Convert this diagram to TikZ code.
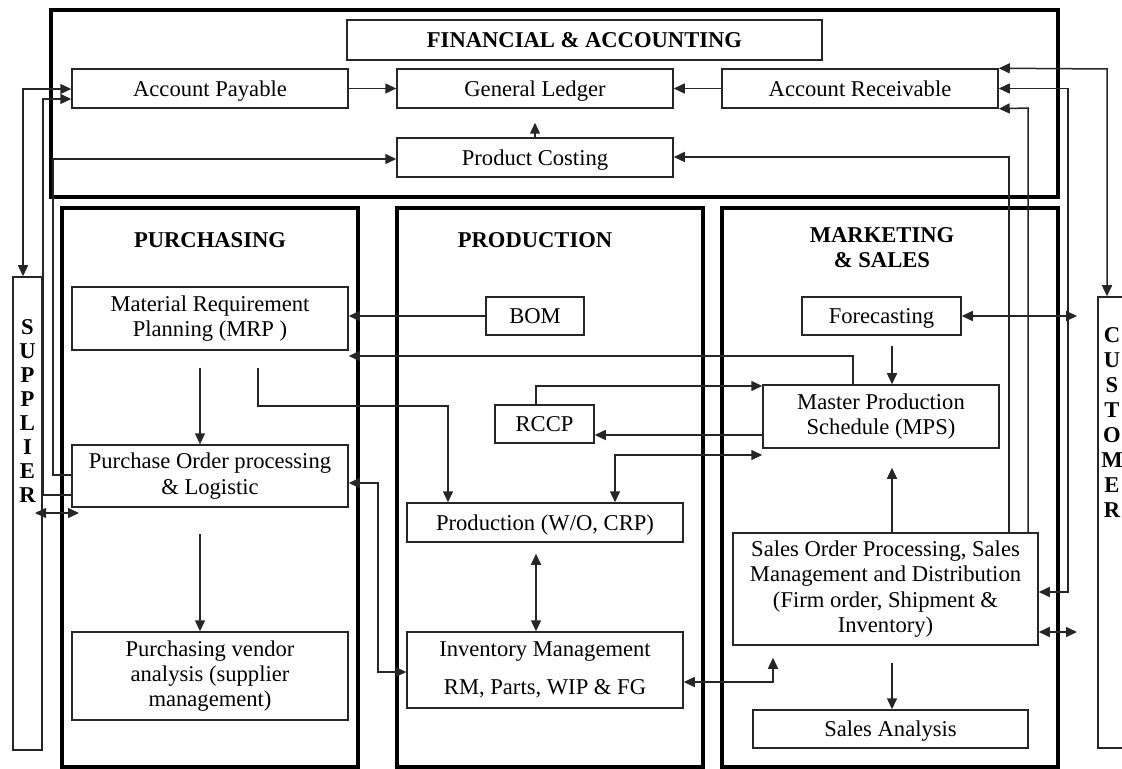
\documentclass[tikz,border=0pt]{standalone}
\usepackage{fontspec}
\setmainfont{Liberation Serif}
\usetikzlibrary{arrows.meta,calc}
\newcommand\bxfont{\fontsize{11.3}{12.6}\selectfont}
\tikzset{
  rect/.style n args={4}{minimum width={(#3-#1)*0.5pt}, minimum height={(#4-#2)*0.5pt},
     at={({(#1+#3)/2},{(#2+#4)/2})}},
  box/.style={draw=black!85, line width=0.75pt, inner sep=0pt, align=center, font=\bxfont},
  one/.style={text height=7.6pt, text depth=0pt},
  sect/.style={draw=black, line width=2pt, inner sep=0pt},
  ttl/.style={inner sep=0pt, align=center, font=\bxfont\bfseries},
  lbl/.style={inner sep=0pt, font=\bxfont\bfseries},
  conn/.style={draw=black!85, line width=0.75pt},
  arr/.style={conn, -{Triangle[length=5.5pt,width=5pt]}},
  darr/.style={conn, {Triangle[length=5.5pt,width=5pt]}-{Triangle[length=5.5pt,width=5pt]}}
}
\begin{document}
\begin{tikzpicture}[x=0.5pt,y=-0.5pt]
\useasboundingbox (0,0) rectangle (1122,769);
\clip (0,0) rectangle (1122,769);
% section frames
\node[sect, rect={51}{10}{1058}{197}] (finbox) {};
\node[sect, rect={62}{208}{358}{767}] (purbox) {};
\node[sect, rect={397}{208}{703}{767}] (probox) {};
\node[sect, rect={722}{208}{1058}{767}] (mktbox) {};
% financial
\node[box, one, font=\bxfont\bfseries, rect={347}{20}{822}{60}] (fa) {FINANCIAL \& ACCOUNTING};
\node[box, one, rect={72}{69}{348}{108}] (ap) {Account Payable};
\node[box, one, rect={397}{69}{673}{108}] (gl) {General Ledger};
\node[box, one, rect={722}{69}{998}{108}] (ar) {Account Receivable};
\node[box, one, rect={397}{138}{673}{177}] (pc) {Product Costing};
% titles
\node[ttl] (tpur) at (210,240) {PURCHASING};
\node[ttl] (tpro) at (535,240) {PRODUCTION};
\node[ttl] (tmkt) at (882,248) {MARKETING\\\& SALES};
% purchasing
\node[box, rect={72}{287}{348}{350}] (mrp) {Material Requirement\\Planning (MRP )};
\node[box, rect={72}{445}{348}{507}] (po) {Purchase Order processing\\\& Logistic};
\node[box, rect={72}{632}{348}{720}] (vend) {Purchasing vendor\\analysis (supplier\\management)};
% production
\node[box, one, rect={486}{297}{584}{335}] (bom) {BOM};
\node[box, one, rect={495}{405}{594}{443}] (rccp) {RCCP};
\node[box, one, rect={407}{503}{683}{542}] (prod) {Production (W/O, CRP)};
\node[box, rect={407}{632}{683}{708}] (inv) {Inventory Management\\[6.5pt]RM, Parts, WIP \& FG};
% marketing
\node[box, one, rect={802}{297}{961}{335}] (fore) {Forecasting};
\node[box, rect={763}{385}{999}{448}] (mps) {Master Production\\Schedule (MPS)};
\node[box, rect={733}{533}{1038}{645}] (sop) {Sales Order Processing, Sales\\Management and Distribution\\(Firm order, Shipment \&\\Inventory)};
\node[box, one, rect={753}{710}{1028}{748}] (sa) {Sales Analysis};
% supplier / customer
\node[box, rect={13}{277}{42}{750}] (sup) {};
\node[box, rect={1098}{297}{1150}{748}] (cust) {};
\foreach \l [count=\i from 0] in {S,U,P,P,L,I,E,R}
  \node[lbl] (sl\i) at (27.5,{327+24*\i}) {\l};
\foreach \l [count=\i from 0] in {C,U,S,T,O,M,E,R}
  \node[lbl] (cl\i) at (1112,{335+25*\i}) {\l};
% route points
\coordinate (k1) at (1009,157);
\coordinate (k2) at (1028,108);
\coordinate (k3) at (1068,88.5);
\coordinate (k3b) at (1068,592);
\coordinate (k4) at (1107,69);
\coordinate (k5) at (1077,316);
\coordinate (k6) at (1077,632);
\coordinate (k7) at (892,0);
\coordinate (k8) at (773,682);
\coordinate (k9) at (853,356);
\coordinate (k10) at (258,406);
\coordinate (k11) at (448,406);
\coordinate (k12) at (536,386);
\coordinate (k13) at (0,435);
\coordinate (k14) at (615,455);
\coordinate (k15) at (378,483);
\coordinate (k16) at (378,672);
\coordinate (k17) at (200,0);
\coordinate (k18) at (23,89);
\coordinate (k19) at (43,495);
\coordinate (k20) at (43,99);
\coordinate (k21) at (53,475);
\coordinate (k22) at (53,159);
\coordinate (k23) at (35,513);
\coordinate (k24) at (79,513);
% connectors
\draw[arr] (ap.east) -- (gl.west);
\draw[arr] (ar.west) -- (gl.east);
\draw[arr] (pc.north) -- ($(gl.south)+(0,14)$);
\draw[arr] (sop.north -| k1) -- (k1) -- (pc.east |- k1);
\draw[arr] (sop.north -| k2) -- (k2) -- (ar.south east);
\draw[darr] (sop.east |- k3b) -- (k3b) -- (k3) -- (ar.east);
\draw[darr] (ar.north east) -- (k4) -- (cust.north -| k4);
\draw[darr] (fore.east) -- (k5);
\draw[darr] (sop.east |- k6) -- (k6);
\draw[arr] ($(fore.south -| k7)+(0,10)$) -- (mps.north -| k7);
\draw[arr] (sop.north -| k7) -- ($(mps.south -| k7)+(0,19)$);
\draw[arr] ($(sop.south -| k7)+(0,17)$) -- (sa.north -| k7);
\draw[darr] ($(sop.south -| k8)+(0,12)$) -- (k8) -- (inv.east |- k8);
\draw[arr] (bom.west) -- (mrp.east |- bom.west);
\draw[arr] (mps.north -| k9) -- (k9) -- (mrp.east |- k9);
\draw[arr] ($(mrp.south -| k10)+(0,17)$) -- (k10) -- (k11) -- (prod.north -| k11);
\draw[arr] (rccp.north -| k12) -- (k12) -- (mps.west |- k12);
\draw[arr] (mps.west |- k13) -- (rccp.east |- k13);
\draw[darr] (prod.north -| k14) -- (k14) -- (mps.west |- k14);
\draw[darr] ($(prod.south -| k12)+(0,11)$) -- (inv.north -| k12);
\draw[darr] (po.east |- k15) -- (k15) -- (k16) -- (inv.west |- k16);
\draw[arr] ($(mrp.south -| k17)+(0,17)$) -- (po.north -| k17);
\draw[arr] ($(po.south -| k17)+(0,26)$) -- (vend.north -| k17);
\draw[darr] (ap.west |- k18) -- (k18) -- (sup.north -| k18);
\draw[arr] (po.west |- k19) -- (k19) -- (k20) -- (ap.west |- k20);
\draw[arr] (po.west |- k21) -- (k21) -- (k22) -- (pc.west |- k22);
\draw[darr] (k23) -- (k24);
\end{tikzpicture}
\end{document}
